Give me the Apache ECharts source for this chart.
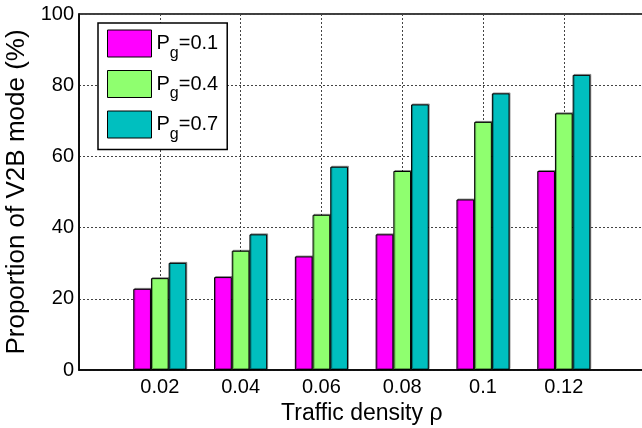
<!DOCTYPE html>
<html>
<head>
<meta charset="utf-8">
<script src="https://cdn.jsdelivr.net/npm/echarts@6/dist/echarts.min.js"></script>
<style>
html,body{margin:0;padding:0;background:#fff;}
#chart{width:642px;height:428px;}
</style>
</head>
<body>
<div id="chart"></div>
<script>
const categories = ['0.02', '0.04', '0.06', '0.08', '0.1', '0.12'];
const seriesNames = ['0.1', '0.4', '0.7'];
const pg01 = [22.8, 26.1, 31.9, 38.1, 47.9, 55.9];
const pg04 = [25.8, 33.5, 43.6, 55.9, 69.7, 72.1];
const pg07 = [30.1, 38.1, 57.1, 74.6, 77.7, 82.9];
const yTicks = [0, 20, 40, 60, 80, 100];

const colors = ['#FF00FF', '#8FFF6F', '#00BFBF'];
const FONT = 'Liberation Sans, Arial, Helvetica, sans-serif';

const chart = echarts.init(document.getElementById('chart'), null, {renderer: 'canvas'});

function mk(name, vals, color) {
  return {
    name: name,
    type: 'bar',
    barWidth: 17.7,
    barGap: '0%',
    data: vals.map((v, i) => [i + 1, v]),
    itemStyle: {
      color: color,
      borderColor: '#000',
      borderWidth: 1,
      shadowColor: 'rgba(0,0,0,0.35)',
      shadowOffsetX: 1,
      shadowOffsetY: -1,
      shadowBlur: 0
    },
    emphasis: {disabled: true},
    animation: false
  };
}

const option = {
  animation: false,
  textStyle: {fontFamily: FONT},
  grid: {
    left: 79, top: 14, width: 565.6, height: 356,
    outerBoundsMode: 'none',
    containLabel: false,
    show: true, borderColor: '#000', borderWidth: 1.5, backgroundColor: '#fff'
  },
  legend: {
    orient: 'vertical',
    left: 98, top: 23,
    itemWidth: 44, itemHeight: 27, itemGap: 8.5,
    padding: [6.5, 9, 7, 9],
    borderColor: '#000', borderWidth: 1.5, backgroundColor: '#fff',
    icon: 'rect',
    itemStyle: {borderColor: '#000', borderWidth: 1},
    formatter: function (name) { return '{p|P}{g|g}{t|=' + name + '}'; },
    textStyle: {
      rich: {
        p: {fontSize: 20, lineHeight: 20, color: '#000', fontFamily: FONT, verticalAlign: 'top'},
        g: {fontSize: 16, lineHeight: 16, color: '#000', fontFamily: FONT, padding: [12, 0, 0, 0], verticalAlign: 'top'},
        t: {fontSize: 20, lineHeight: 20, color: '#000', fontFamily: FONT, verticalAlign: 'top'}
      }
    },
    data: seriesNames
  },
  xAxis: {
    type: 'value',
    min: 0, max: 7, interval: 1,
    name: 'Traffic density ρ',
    nameLocation: 'middle',
    nameGap: 26,
    nameTextStyle: {fontSize: 23, color: '#000', fontFamily: FONT},
    axisLine: {show: true, lineStyle: {color: '#000', width: 1.5}},
    axisTick: {show: false},
    axisLabel: {
      fontSize: 20, color: '#000', margin: 7, fontFamily: FONT,
      formatter: function (v) { return categories[v - 1] || ''; }
    },
    splitLine: {show: true, lineStyle: {color: '#444', type: [2, 2], width: 1}}
  },
  yAxis: {
    type: 'value',
    min: 0, max: 100, interval: 20,
    name: 'Proportion of V2B mode (%)',
    nameLocation: 'middle',
    nameGap: 46,
    nameTextStyle: {fontSize: 26, color: '#000', fontFamily: FONT},
    axisLine: {show: true, lineStyle: {color: '#000', width: 1.5}},
    axisTick: {show: false},
    axisLabel: {
      fontSize: 20, color: '#000', margin: 5, fontFamily: FONT,
      formatter: function (v) { return yTicks.indexOf(v) >= 0 ? String(v) : ''; }
    },
    splitLine: {show: true, lineStyle: {color: '#444', type: [2, 2], width: 1}}
  },
  series: [
    mk(seriesNames[0], pg01, colors[0]),
    mk(seriesNames[1], pg04, colors[1]),
    mk(seriesNames[2], pg07, colors[2])
  ]
};
chart.setOption(option);
</script>
</body>
</html>
